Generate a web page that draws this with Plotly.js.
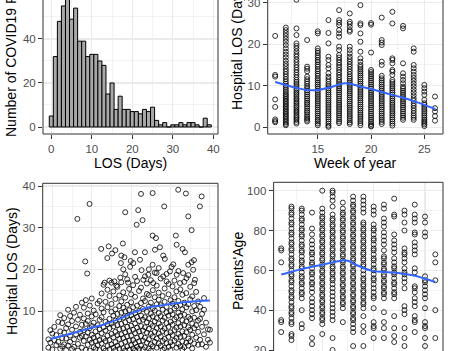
<!DOCTYPE html>
<html><head><meta charset="utf-8">
<script src="https://cdn.plot.ly/plotly-3.0.1.min.js"></script>
<style>html,body{margin:0;padding:0;background:#fff;}#chart{width:450px;height:351px;}</style>
</head><body><div id="chart"></div>
<script>
// ---------- Panel A: histogram of LOS ----------
const losBins = [0,1,2,3,4,5,6,7,8,9,10,11,12,13,14,15,16,17,18,19,20,21,22,23,24,25,26,27,28,29,30,31,32,33,34,35,36,37,38,39];
const losCounts = [5,32,48,55,60,49,54,39,39,32,33,33,30,28,15,20,8,14,8,8,7,7,6,8,7,9,3,1,2,0,1,1,2,1,2,2,1,0,4,1];

// ---------- Panel B: LOS by week of year ----------
const weeks = [11,12,13,14,15,16,17,18,19,20,21,22,23,24,25,26];
const losWk11 = [22.0,12.6,12.2,6.7,4.9,1.9,1.5,1.2];
const losWk12 = [24.0,23.4,22.7,22.0,21.3,20.6,19.8,19.0,18.2,17.5,16.8,16.0,15.3,14.7,14.0,13.4,12.8,12.2,11.6,11.0,10.5,10.0,9.5,9.0,8.5,8.0,7.6,7.2,6.8,6.4,6.0,5.6,5.2,4.8,4.4,4.0,3.6,3.2,2.8,2.4,2.0,1.6,1.2,0.8,0.5];
const losWk13 = [30.7,23.8,22.2,20.2,19.6,19.0,18.3,17.6,17.0,16.3,15.7,15.0,14.4,13.8,13.2,12.6,12.0,11.4,10.9,10.4,9.9,9.4,8.9,8.4,8.0,7.5,7.0,6.6,6.1,5.7,5.2,4.8,4.3,3.9,3.5,3.0,2.6,2.2,1.8,1.3,0.9];
const losWk14 = [21.0,14.6,14.1,13.5,12.2,11.6,11.0,10.5,9.9,9.4,8.9,8.4,7.9,7.4,6.9,6.4,5.9,5.5,5.0,4.5,4.0,3.6,3.1,2.6,2.2,1.8,1.4];
const losWk15 = [23.1,22.6,19.0,18.4,17.9,17.3,16.8,16.2,15.7,15.1,14.6,14.0,13.5,12.9,12.4,11.8,11.3,10.8,10.3,9.8,9.3,8.8,8.3,7.8,7.3,6.8,6.3,5.8,5.3,4.8,4.3,3.8,3.3,2.8,2.3,1.8,1.4,0.9,0.5];
const losWk16 = [25.8,22.7,20.2,17.0,16.2,15.0,14.2,13.0,12.2,11.6,11.0,10.4,9.9,9.4,8.9,8.4,7.9,7.4,6.9,6.4,5.9,5.4,4.9,4.4,3.9,3.4,2.9,2.4,1.9,1.4,0.9,0.4,0.1];
const losWk17 = [28.2,25.8,25.2,24.6,23.4,22.6,21.8,19.4,18.6,17.4,16.8,16.2,15.6,15.0,14.4,13.8,13.2,12.6,12.0,11.4,10.9,10.4,9.9,9.4,8.9,8.4,7.9,7.4,6.9,6.4,5.9,5.4,4.9,4.4,3.9,3.4,2.9,2.4,1.9,1.4,1.0];
const losWk18 = [27.4,25.4,24.9,24.2,23.4,23.0,19.4,18.6,17.8,17.0,16.4,15.8,15.2,14.6,14.0,13.4,12.8,12.2,11.7,11.2,10.7,10.2,9.7,9.2,8.7,8.2,7.7,7.2,6.7,6.2,5.7,5.2,4.7,4.2,3.7,3.2,2.7,2.2,1.7,1.2,0.8];
const losWk19 = [29.4,25.0,24.6,22.6,20.6,18.2,16.6,15.8,15.0,14.5,14.0,13.5,13.0,12.5,12.0,11.5,11.0,10.5,10.0,9.5,9.0,8.5,8.0,7.5,7.0,6.5,6.0,5.5,5.0,4.5,4.0,3.5,3.0,2.5,2.0,1.5,1.0,0.5];
const losWk20 = [25.1,24.7,18.0,13.8,13.3,12.8,12.3,11.8,11.3,10.8,10.3,9.8,9.3,8.8,8.3,7.8,7.3,6.8,6.3,5.8,5.3,4.8,4.3,3.8,3.3,2.8,2.3,1.8,1.3,0.8,0.4,0.2];
const losWk21 = [26.4,21.0,20.4,19.8,15.8,15.0,12.4,11.8,11.3,10.8,10.3,9.8,9.3,8.8,8.3,7.8,7.3,6.8,6.3,5.8,5.3,4.8,4.3,3.8,3.3,2.8,2.3,1.8,1.3,0.8];
const losWk22 = [27.8,25.0,16.6,16.2,15.4,13.8,13.4,12.6,11.4,10.9,10.4,9.9,9.4,8.9,8.4,7.9,7.4,6.9,6.4,5.9,5.4,4.9,4.4,3.9,3.4,2.9,2.4,1.9,1.4,0.9,0.4];
const losWk23 = [24.4,23.8,15.4,13.0,12.2,11.4,10.6,9.8,9.3,8.8,8.3,7.8,7.3,6.8,6.3,5.8,5.3,4.8,4.3,3.8,3.3,2.8,2.3,1.8];
const losWk24 = [19.0,18.2,15.0,14.2,13.4,12.6,11.9,11.2,10.5,9.8,9.1,8.4,7.7,7.0,6.4,5.8,5.2,4.6,4.0,3.4,2.8,2.3,1.8];
const losWk25 = [10.2,9.4,8.6,7.8,6.6,5.8,5.4,4.9,4.4,3.9,3.4,2.9,2.4,1.9,1.5,1.1,0.7,0.3];
const losWk26 = [7.4,4.6,3.8,2.7,1.6];
const smoothWeek = [11,12,13,14,15,16,17,17.5,18,19,20,21,22,23,24,25,26];
const smoothLosByWeek = [10.9,10.2,9.5,9.0,9.0,9.5,10.3,10.6,10.5,9.8,9.2,8.5,7.8,7.1,6.3,5.4,4.4];

// ---------- Panel C: LOS by age ----------
const highLosPairs = [[38.9,35.7],[32.7,32.1],[57.0,33.7],[36.7,21.9],[37.7,19.0],[44.8,24.9],[48.6,25.5],[50.3,23.8],[52.0,24.6],[47.9,22.7],[55.8,26.2],[55.0,23.3],[56.6,22.9],[54.8,21.5],[56.0,20.0],[59.8,22.0],[59.5,20.6],[54.5,18.0],[46.5,16.8],[49.0,17.3],[51.5,17.1],[52.5,16.1],[57.0,18.8],[58.5,16.8],
[65.0,38.1],[70.9,38.3],[83.9,39.1],[87.8,38.2],[95.8,37.5],[63.6,34.2],[76.8,35.1],[94.9,35.1],[62.8,30.7],[65.8,31.8],[89.0,32.7],[90.7,29.4],[70.9,28.1],[72.6,27.5],[82.7,28.1],[83.1,25.9],[86.1,24.9],[87.3,24.1],[91.9,22.2],[90.7,21.7],[72.1,24.7],[74.6,25.3],[76.3,23.3],[77.1,22.5],[61.9,24.1],[67.0,24.1],[64.5,22.3],[61.1,21.5],[70.9,21.1],[81.4,21.2],[89.0,21.1],
[65.3,19.8],[68.7,18.7],[72.9,19.1],[76.3,18.3],[79.7,19.5],[83.1,18.7],[86.4,19.1],[88.1,17.9],[84.8,16.7],[91.5,19.9],[92.4,17.5],[66.2,17.5],[71.2,16.7],[78.0,17.1],[62.0,18.2],[74.0,20.3],[80.5,20.6],[69.0,20.0]];
const mainCloudPairs = [[18,3.2],[18,1.2],[19,5.4],[19,2.4],[20,4.6],[20,0.8],[21,3.0],[21,6.2],[22,1.8],[22,4.2],[23,2.6],[23,7.4],[24,0.9],[24,5.1],[24,9.0],[25,3.5],[25,7.1],[25,1.5],
[26,4.8],[26,2.0],[26,8.3],[27,0.6],[27,5.9],[27,3.4],[28,10.3],[28,6.8],[28,1.7],[29,4.1],[29,8.8],[29,2.6],[30,0.9],[30,5.5],[30,7.6],[31,3.2],[31,9.6],[31,1.4],[32,6.3],[32,4.4],[32,11.0],[33,2.1],[33,7.9],[33,0.5],[34,5.0],[34,3.6],[34,9.1],[35,1.2],[35,6.7],[35,4.0],[35,12.0],
[36,2.8],[36,8.2],[36,5.4],[36,10.8],[37,0.7],[37,3.9],[37,6.9],[37,12.6],[38,1.9],[38,4.8],[38,9.4],[38,7.6],[39,3.1],[39,5.9],[39,11.3],[39,0.5],[40,2.4],[40,6.4],[40,8.7],[40,4.3],[40,13.0],[41,1.3],[41,3.6],[41,7.2],[41,10.1],[42,5.1],[42,2.7],[42,9.2],[42,0.9],[43,4.0],[43,6.6],[43,11.8],[43,1.8],[44,3.0],[44,7.9],[44,5.6],[44,12.4],[44,0.6],
[45,2.2],[45,4.7],[45,8.5],[45,10.6],[45,14.2],[46,1.0],[46,3.4],[46,6.1],[46,9.7],[46,16.3],[47,2.8],[47,5.3],[47,7.4],[47,12.2],[47,0.5],[48,4.1],[48,1.6],[48,6.8],[48,10.9],[48,15.1],[49,3.0],[49,5.9],[49,8.1],[49,13.6],[49,0.8],[50,2.0],[50,4.5],[50,7.0],[50,9.8],[50,11.7],[50,16.8],[51,1.2],[51,3.7],[51,6.3],[51,8.9],[51,14.7],[52,2.5],[52,5.0],[52,7.7],[52,10.4],[52,12.9],[52,0.6],[53,1.7],[53,4.2],[53,6.6],[53,9.3],[53,15.8],[54,3.3],[54,5.6],[54,8.0],[54,11.2],[54,13.7],[54,0.9],
[55,2.1],[55,4.4],[55,6.9],[55,9.6],[55,12.3],[55,16.9],[56,1.1],[56,3.5],[56,5.8],[56,8.4],[56,10.8],[56,14.5],[57,2.6],[57,4.9],[57,7.3],[57,9.9],[57,13.2],[57,0.5],[58,1.5],[58,3.9],[58,6.2],[58,8.8],[58,11.5],[58,17.6],[59,2.9],[59,5.2],[59,7.8],[59,10.2],[59,15.3],[59,0.7],[60,1.8],[60,4.1],[60,6.5],[60,9.0],[60,12.1],[60,14.0],[61,3.0],[61,5.5],[61,8.1],[61,10.9],[61,16.2],[61,1.0],[62,2.3],[62,4.7],[62,7.0],[62,9.5],[62,13.4],[62,0.6],[63,1.4],[63,3.6],[63,6.0],[63,8.6],[63,11.3],[63,17.2],[64,2.7],[64,5.1],[64,7.6],[64,10.0],[64,14.8],[64,0.9],
[65,1.7],[65,4.0],[65,6.4],[65,8.9],[65,11.9],[65,15.6],[66,2.9],[66,5.3],[66,7.9],[66,10.5],[66,13.0],[66,0.8],[67,1.3],[67,3.6],[67,6.1],[67,8.5],[67,12.4],[67,18.3],[68,2.4],[68,4.8],[68,7.3],[68,9.8],[68,14.1],[68,16.6],[69,1.0],[69,3.2],[69,5.7],[69,8.2],[69,11.1],[69,13.8],[70,2.0],[70,4.5],[70,6.9],[70,9.4],[70,12.0],[70,17.4],[70,0.5],[71,1.5],[71,3.9],[71,6.4],[71,8.7],[71,10.7],[71,15.0],[72,2.6],[72,5.0],[72,7.5],[72,10.1],[72,13.3],[72,19.2],[73,1.2],[73,3.4],[73,5.9],[73,8.3],[73,11.6],[73,16.1],[74,2.2],[74,4.6],[74,7.0],[74,9.5],[74,12.7],[74,14.4],
[75,1.6],[75,3.9],[75,6.3],[75,8.8],[75,11.4],[75,17.8],[76,2.8],[76,5.2],[76,7.7],[76,10.3],[76,13.6],[76,0.7],[77,1.1],[77,3.3],[77,5.8],[77,8.4],[77,12.2],[77,15.4],[78,2.3],[78,4.7],[78,7.1],[78,9.7],[78,11.0],[78,18.9],[79,1.4],[79,3.8],[79,6.2],[79,8.9],[79,14.0],[79,16.5],[80,2.5],[80,4.9],[80,7.4],[80,10.0],[80,12.6],[80,0.6],[81,1.8],[81,4.2],[81,6.7],[81,9.2],[81,11.8],[81,15.9],[82,2.9],[82,5.4],[82,8.0],[82,10.6],[82,13.3],[82,17.3],[83,1.2],[83,3.5],[83,6.0],[83,8.5],[83,11.1],[83,14.7],[84,2.1],[84,4.5],[84,7.1],[84,9.6],[84,12.4],[84,19.6],
[85,1.5],[85,3.8],[85,6.3],[85,8.9],[85,11.5],[85,15.2],[86,2.7],[86,5.1],[86,7.8],[86,10.4],[86,13.9],[86,0.8],[87,1.3],[87,4.0],[87,6.6],[87,9.1],[87,12.0],[87,17.0],[88,2.4],[88,4.9],[88,7.5],[88,10.9],[88,14.3],[89,1.7],[89,3.4],[89,6.1],[89,8.6],[89,11.6],[89,18.6],[90,2.8],[90,5.5],[90,8.1],[90,12.8],[90,15.8],[91,1.0],[91,4.3],[91,7.0],[91,9.9],[91,13.5],[92,2.2],[92,5.9],[92,8.4],[92,11.2],[92,16.7],[93,3.6],[93,6.6],[93,10.2],[93,14.6],[94,1.9],[94,5.0],[94,7.7],[94,12.3],
[95,3.1],[95,8.1],[95,11.0],[96,2.0],[96,6.2],[96,9.3],[97,4.4],[97,10.3],[97,13.1],[98,1.4],[98,7.2],[99,3.1],[99,5.6],[100,5.5],[100,2.4]];
const smoothAge = [18.8,25,30,35,40,45,50,55,60,65,70,75,80,85,90,95,100];
const smoothLosByAge = [3.3,4.0,4.6,5.3,6.0,6.6,7.4,8.3,9.4,10.3,11.0,11.3,11.7,12.0,12.2,12.4,12.5];

// ---------- Panel D: age by week of year ----------
const ageWk11 = [71,70,64,35,34,29];
const ageWk12 = [92,91,89,88,86,84,83,81,79,78,76,74,73,71,70,68,66,65,63,62,60,58,57,55,54,52,50,49,47,46,44,42,41,39,38,36,34,33,28,27,25];
const ageWk13 = [91,90,88,86,85,83,81,80,78,77,75,73,72,70,69,67,65,64,62,61,59,57,56,54,53,51,49,48,46,40,33,31];
const ageWk14 = [89,81,78,75,73,71,69,68,66,64,63,61,59,58,56,54,53,51,49,46,44,42,40,38,36,26,23];
const ageWk15 = [100,91,89,87,86,84,83,81,80,78,77,75,74,72,71,69,68,66,65,63,62,60,59,57,56,54,53,51,50,48,47,45,44,42,41,39,38,36,35,33,28];
const ageWk16 = [100,99,97,95,92,88,86,85,83,82,80,79,77,76,74,73,71,70,68,67,65,64,62,61,59,58,56,55,53,51,49,47,45,43,41,39,37,35,26,20];
const ageWk17 = [94,91,89,88,86,85,83,82,80,79,77,76,74,73,71,70,68,67,65,64,62,61,59,58,56,55,53,52,50,49,47,46,44,43,41,34];
const ageWk18 = [97,95,93,92,90,89,87,86,84,83,81,80,78,77,75,74,72,71,69,68,66,65,63,62,60,59,57,56,54,53,51,50,48,47,45,44,42,41,39,38,36,35,33,31,29,22];
const ageWk19 = [97,95,93,91,89,84,83,81,80,78,77,75,74,72,71,69,68,66,65,63,62,60,58,56,55,53,52,50,49,47,46,44,43,41,37,32,29,22];
const ageWk20 = [92,90,88,83,81,80,78,76,75,73,71,70,68,66,65,63,61,60,58,56,55,53,51,49,47,46,41,34,32,31,26];
const ageWk21 = [93,91,86,84,82,79,77,75,73,70,67,66,64,63,61,60,58,57,55,54,52,51,49,48,46,39,34,31,26];
const ageWk22 = [96,88,87,78,75,73,71,69,66,64,62,61,59,58,56,54,53,51,49,48,46,37,31,27,24];
const ageWk23 = [90,88,84,80,71,69,68,66,64,61,59,58,56,54,51,42,40,38,31,26,22];
const ageWk24 = [93,88,86,84,79,78,74,72,70,68,61,59,52,51,49,46,44,42,37,35,34,29];
const ageWk25 = [87,84,79,77,57,55,54,52,50,48,46,41,34,32,31,26,22];
const ageWk26 = [68,64,55,40,26];
const smoothAgeByWeek = [57.9,59.3,60.6,61.8,62.8,64.0,65.0,64.8,63.5,61.2,59.6,59.2,58.9,58.2,57.3,55.8,54.2];

// ---------- build traces ----------
function byWeek(lists){
  const x=[], y=[];
  lists.forEach((arr,i)=>arr.forEach(v=>{x.push(weeks[i]); y.push(v);}));
  return {x,y};
}
const losWeek = byWeek([losWk11,losWk12,losWk13,losWk14,losWk15,losWk16,losWk17,losWk18,losWk19,losWk20,losWk21,losWk22,losWk23,losWk24,losWk25,losWk26]);
const ageWeek = byWeek([ageWk11,ageWk12,ageWk13,ageWk14,ageWk15,ageWk16,ageWk17,ageWk18,ageWk19,ageWk20,ageWk21,ageWk22,ageWk23,ageWk24,ageWk25,ageWk26]);
const allAgeLos = highLosPairs.concat(mainCloudPairs);

const FONT = 'Liberation Sans, Arial, sans-serif';
const SMOOTH = '#3366FF';
const mk = {symbol:'circle-open', size:5, color:'#000000', line:{width:0.8, color:'#000000'}};

const traces = [
  {type:'bar', x:losBins, y:losCounts, width:1, xaxis:'x', yaxis:'y',
   marker:{color:'#A8A8A8', line:{color:'#000000', width:1}}, hoverinfo:'none'},
  {type:'scatter', mode:'markers', x:losWeek.x, y:losWeek.y, xaxis:'x2', yaxis:'y2', marker:mk},
  {type:'scatter', mode:'lines', x:smoothWeek, y:smoothLosByWeek, xaxis:'x2', yaxis:'y2', line:{color:SMOOTH, width:2, shape:'spline'}},
  {type:'scatter', mode:'markers', x:allAgeLos.map(p=>p[0]), y:allAgeLos.map(p=>p[1]), xaxis:'x3', yaxis:'y3', marker:mk},
  {type:'scatter', mode:'lines', x:smoothAge, y:smoothLosByAge, xaxis:'x3', yaxis:'y3', line:{color:SMOOTH, width:2, shape:'spline'}},
  {type:'scatter', mode:'markers', x:ageWeek.x, y:ageWeek.y, xaxis:'x4', yaxis:'y4', marker:mk},
  {type:'scatter', mode:'lines', x:smoothWeek, y:smoothAgeByWeek, xaxis:'x4', yaxis:'y4', line:{color:SMOOTH, width:2, shape:'spline'}}
];

const GRID = '#EBEBEB';
function axis(domain, range, dtick, minor, labels, anchor){
  return {domain, range, dtick, tick0:0, anchor, showgrid:true, gridcolor:GRID, gridwidth:1.1,
    minor:{dtick:minor, showgrid:true, gridcolor:GRID, gridwidth:0.6},
    zeroline:false, showline:false, ticks: labels ? 'outside':'', ticklen:4, tickwidth:1, tickcolor:'#333333',
    ticklabeloverflow:'allow',
    showticklabels:labels, tickfont:{family:FONT, size:11.5, color:'#4D4D4D'}, fixedrange:true};
}
const W=450, H=351;
const layout = {
  width:W, height:H, margin:{l:0,r:0,t:0,b:0}, paper_bgcolor:'#fff', plot_bgcolor:'#fff', showlegend:false,
  bargap:0, font:{family:FONT},
  xaxis: axis([43/W, 218/W], [-2.05, 41.16], 10, 5, true, 'y'),
  yaxis: axis([1-134/H, 1], [-3.18, 57.7], 20, 10, true, 'x'),
  xaxis2: axis([267.7/W, 443/W], [10.3, 26.75], 5, 2.5, true, 'y2'),
  yaxis2: axis([1-134/H, 1], [-1.61, 30.64], 10, 5, true, 'x2'),
  xaxis3: axis([42.7/W, 218/W], [15.1, 104.1], 20, 10, false, 'y3'),
  yaxis3: axis([0, 1-183.3/H], [0.4, 40.65], 10, 5, true, 'x3'),
  xaxis4: axis([273.6/W, 443/W], [10.26, 26.75], 5, 2.5, false, 'y4'),
  yaxis4: axis([0, 1-182.3/H], [19.5, 104.2], 20, 10, true, 'x4'),
  shapes: [],
  annotations: []
};
function border(xr, yr, sides){
  const s = {left:[0,0,0,1], right:[1,1,0,1], bottom:[0,1,0,0], top:[0,1,1,1]};
  sides.forEach(k=>{ const c=s[k];
    layout.shapes.push({type:'line', xref:xr+' domain', yref:yr+' domain', x0:c[0], x1:c[1], y0:c[2], y1:c[3], line:{color:'#333333', width:1}});
  });
}
border('x','y',['left','right','bottom']);
border('x2','y2',['left','right','bottom']);
border('x3','y3',['left','right','top']);
border('x4','y4',['left','right','top']);

function title(text, xpx, ypx, angle){
  layout.annotations.push({text, xref:'paper', yref:'paper', x:xpx/W, y:1-ypx/H, xanchor:'center', yanchor:'middle',
    showarrow:false, textangle:angle||0, font:{family:FONT, size:14, color:'#000000'}});
}
title('LOS (Days)', 130.5, 162.5);
title('Week of year', 355.3, 162.5);
title('Number of COVID19 Patients', 11, 45, -90);
title('Hospital LOS (Days)', 237, 46, -90);
title('Hospital LOS (Days)', 12, 271, -90);
title("Patients'Age", 238, 271, -90);

Plotly.newPlot('chart', traces, layout, {staticPlot:true, displayModeBar:false});
</script></body></html>
